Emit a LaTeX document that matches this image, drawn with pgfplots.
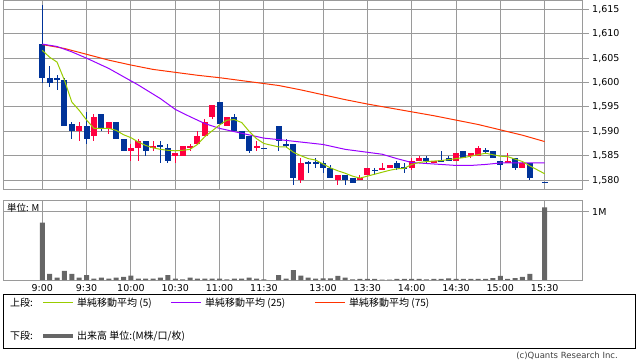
\documentclass[border=0pt]{standalone}
\usepackage{pgfplots}
\pgfplotsset{compat=1.18}
\usepackage{pgfplotstable}
\usepackage{fontspec}
\setmainfont{DejaVu Sans}
\newfontfamily\jp{Noto Sans CJK JP}
\definecolor{upred}{HTML}{FF0040}
\definecolor{dnblue}{HTML}{003399}
\definecolor{maA}{HTML}{99CC00}
\definecolor{maB}{HTML}{9900FF}
\definecolor{maC}{HTML}{FF3300}
\definecolor{vol}{HTML}{666666}
\definecolor{gridc}{HTML}{9A9A9A}

\pgfplotstableread{
x o h l c
5 1590 1592 1588 1591
7 1589 1593.5 1588 1593
9 1590.5 1592 1589.5 1592
12 1586 1587.5 1584 1586.5
13 1586.5 1588.5 1584 1588
15 1586.5 1588 1586 1587
18 1585 1585.5 1583.5 1585.5
19 1585 1587 1585 1587
20 1586.5 1587.5 1586 1587
21 1587.5 1590 1587.5 1589
22 1589 1592.5 1589 1592
23 1593 1595.5 1592.5 1595.5
25 1591 1593 1591 1593
29 1586.5 1588 1586 1587
35 1580 1584.5 1579.5 1583.5
40 1580 1581 1579 1581
43 1580 1581 1580 1580.5
44 1581 1582.5 1581 1582.5
46 1582 1583.5 1582 1582.5
47 1582.5 1583 1582.5 1583
50 1582.5 1584.5 1582 1584
51 1584 1585 1584 1584.5
53 1583.5 1584 1583.5 1584
56 1584 1585.5 1584 1585.5
58 1585 1585.5 1584.5 1585.5
59 1585 1587 1585 1586.5
63 1583.5 1585.5 1583.5 1584
65 1582.5 1584 1582.5 1583.5
}\uptab

\pgfplotstableread{
x o h l c
0 1608 1616 1600 1601
1 1601 1603.5 1599 1600
2 1601 1601.5 1598.5 1600.5
3 1600.5 1601 1591 1591
4 1591.5 1592 1588.5 1590
6 1591 1594 1587.5 1588.5
8 1593.5 1593.5 1590 1590.5
10 1592 1592 1588.5 1588.5
11 1588.5 1588.5 1586 1586
14 1588 1588 1585 1586
16 1587 1588 1583.5 1587
17 1586.5 1587.5 1583.5 1584
24 1596 1596 1591.5 1591.5
26 1593 1593.5 1590 1590
27 1590 1590 1588.5 1588.5
28 1589 1589 1585.5 1586
30 1586.5 1586.5 1586.5 1586.5
32 1591 1591 1586 1588
33 1587.5 1588.5 1586.5 1587
34 1587.5 1587.5 1579 1580.5
36 1583.5 1584 1581.5 1583.5
37 1583.5 1584.5 1582.5 1583.5
38 1583.5 1584 1581.5 1582.5
39 1582.5 1583 1580.5 1580.5
41 1581 1581 1579 1580
42 1580.5 1580.5 1579.5 1579.5
45 1582 1582.5 1581 1582
48 1583.5 1584 1582 1582.5
49 1582.5 1583.5 1581.5 1582.5
52 1584.5 1585 1583.5 1584
54 1584 1586 1584 1584
55 1584.5 1585 1584 1584
57 1586 1586 1584.5 1584.5
60 1586 1586.5 1585.5 1586
61 1586 1586 1584.5 1584.5
62 1584 1584 1582 1583
64 1584.5 1584.5 1582 1582.5
66 1583.5 1583.5 1580 1580.5
68 1579.5 1579.5 1579.5 1579.5
}\dntab

\pgfplotstableread{
x y
0 1606.6
1 1605.2
2 1604.2
3 1600.5
4 1596.0
5 1594.3
6 1592.3
7 1590.6
8 1590.6
9 1590.6
10 1590.2
11 1589.3
12 1588.7
13 1587.8
14 1587.1
15 1586.6
16 1586.3
17 1586.1
18 1586.0
19 1586.1
20 1586.3
21 1587.3
22 1588.9
23 1590.1
24 1591.3
25 1592.3
26 1592.4
27 1591.8
28 1590.0
29 1588.5
30 1587.5
32 1586.8
33 1586.8
34 1585.7
35 1585.0
36 1584.4
37 1584.1
38 1583.3
39 1582.5
40 1581.9
41 1581.4
42 1580.8
43 1580.4
44 1580.8
45 1581.2
46 1581.6
47 1582.0
48 1582.3
49 1582.4
50 1583.2
51 1583.6
52 1583.8
53 1583.9
54 1584.0
55 1584.2
56 1584.4
57 1584.6
58 1584.9
59 1585.2
60 1585.5
61 1585.2
62 1584.9
63 1584.8
64 1584.3
65 1583.8
66 1582.9
68 1581.3
}\maAtab

\pgfplotstableread{
x y
0 1607.9
2 1607.4
4 1606.3
6 1605.0
9 1602.9
11 1601.2
13 1599.5
16 1596.7
18 1594.5
20 1593.0
22 1591.6
24 1590.6
27 1589.6
30 1588.6
32 1588.3
35 1587.8
38 1587.3
41 1586.3
44 1585.7
46 1585.3
48 1584.4
50 1583.6
53 1583.3
56 1583.0
58 1583.0
60 1583.2
62 1583.5
66 1583.5
68 1583.5
}\maBtab

\pgfplotstableread{
x y
0 1607.8
3 1607.0
6 1605.8
9 1604.6
12 1603.6
15 1602.7
18 1602.1
21 1601.5
24 1601.0
28 1600.2
30 1599.8
32 1599.4
35 1598.5
38 1597.5
41 1596.5
44 1595.6
47 1594.8
50 1594.0
53 1593.2
56 1592.3
59 1591.4
62 1590.3
65 1589.2
68 1587.9
}\maCtab

\pgfplotstableread{
x v
0 0.839
1 0.088
2 0.034
3 0.132
4 0.088
5 0.034
6 0.073
7 0.020
8 0.034
9 0.020
10 0.034
11 0.044
12 0.063
13 0.020
14 0.020
15 0.020
16 0.034
17 0.073
18 0.020
19 0.010
20 0.034
21 0.020
22 0.020
23 0.020
24 0.020
25 0.010
26 0.020
27 0.020
28 0.034
29 0.020
30 0.010
32 0.073
33 0.020
34 0.146
35 0.063
36 0.034
37 0.020
38 0.025
39 0.025
40 0.059
41 0.034
42 0.010
43 0.015
44 0.015
45 0.015
46 0.005
47 0.005
48 0.015
49 0.015
50 0.015
51 0.015
52 0.010
53 0.015
54 0.015
55 0.025
56 0.015
57 0.015
58 0.015
59 0.015
60 0.015
61 0.029
62 0.059
63 0.015
64 0.029
65 0.044
66 0.088
68 1.063
}\voltab

\pgfplotsset{
  panel/.style={
    scale only axis, width=578.7pt,
    xmin=-5.18, xmax=73.15,
    axis line style={gridc, line width=1pt},
    xtick={0,6,12,18,24,30,38,44,50,56,62,68},
    xtick pos=bottom,
    grid=major, major grid style={gridc, line width=1pt},
    ytick pos=right, yticklabel pos=right,
    tick align=outside, major tick length=6pt,
    xtick style={draw=none}, ytick style={gridc, line width=1pt},
    tick label style={font=\fontsize{9.5}{11}\selectfont},
    x tick label style={yshift=5pt},
    /pgf/number format/assume math mode=true,
    /pgf/number format/1000 sep={,},
  },
  candle/.style 2 args={draw=none, mark=none, forget plot,
    error bars/.cd, y dir=both, y explicit, error mark=none,
    error bar style={draw=#1, line width=#2}},
}

\begin{document}
\begin{tikzpicture}
\path (0pt,0pt) rectangle (638pt,362pt);
% ---------- price panel ----------
\begin{axis}[panel, at={(4pt,172pt)}, anchor=south west, height=189.5pt,
  ymin=1577.96, ymax=1616.84,
  ytick={1580,1585,1590,1595,1600,1605,1610,1615},
  xticklabels={}]
  \addplot[candle={dnblue}{1pt}]
    table[x=x, y expr={(\thisrow{h}+\thisrow{l})/2}, y error expr={(\thisrow{h}-\thisrow{l})/2}] {\dntab};
  \addplot[candle={upred}{1pt}]
    table[x=x, y expr={(\thisrow{h}+\thisrow{l})/2}, y error expr={(\thisrow{h}-\thisrow{l})/2}] {\uptab};
  \addplot[candle={dnblue}{6pt}]
    table[x=x, y expr={(\thisrow{o}+\thisrow{c})/2}, y error expr={max(abs(\thisrow{o}-\thisrow{c})/2,0.11)}] {\dntab};
  \addplot[candle={upred}{6pt}]
    table[x=x, y expr={(\thisrow{o}+\thisrow{c})/2}, y error expr={max(abs(\thisrow{o}-\thisrow{c})/2,0.11)}] {\uptab};
  \addplot[maC, line width=1pt, mark=none] table[x=x,y=y] {\maCtab};
  \addplot[maB, line width=1pt, mark=none] table[x=x,y=y] {\maBtab};
  \addplot[maA, line width=1pt, mark=none] table[x=x,y=y] {\maAtab};
\end{axis}
% ---------- volume panel ----------
\begin{axis}[panel, at={(4pt,82pt)}, anchor=south west, height=79.3pt,
  ymin=0, ymax=1.161,
  ytick={1}, yticklabels={1M},
  xticklabels={9:00,9:30,10:00,10:30,11:00,11:30,13:00,13:30,14:00,14:30,15:00,15:30}]
  \addplot[ybar, bar width=5pt, bar shift=0pt, fill=vol, draw=none] table[x=x,y=v] {\voltab};
  \node[anchor=north west, inner sep=0pt, font=\jp\fontsize{9.5}{10}\selectfont] at ([xshift=3pt,yshift=-3pt]rel axis cs:0,1) {単位: M};
\end{axis}
% ---------- legend ----------
\draw[black, line width=0.8pt] (3pt,14pt) rectangle (635pt,68pt);
\begin{scope}[every node/.style={anchor=west, inner sep=0pt, font=\jp\fontsize{10}{12}\selectfont}]
\node at (10pt,59pt) {上段:};
\draw[maA, line width=1pt] (43pt,59pt) -- (73pt,59pt);
\node at (77pt,59pt) {単純移動平均 (5)};
\draw[maB, line width=1pt] (171pt,59pt) -- (201pt,59pt);
\node at (205pt,59pt) {単純移動平均 (25)};
\draw[maC, line width=1pt] (315pt,59pt) -- (345pt,59pt);
\node at (349pt,59pt) {単純移動平均 (75)};
\node at (10pt,26pt) {下段:};
\draw[vol, line width=4pt] (43pt,26pt) -- (73pt,26pt);
\node at (77pt,26pt) {出来高 単位:(M株/口/枚)};
\end{scope}
\node[anchor=east, inner sep=0pt, font=\fontsize{8.5}{10}\selectfont, text=black!75] at (618pt,6pt) {(c)Quants Research Inc.};
\end{tikzpicture}
\end{document}
